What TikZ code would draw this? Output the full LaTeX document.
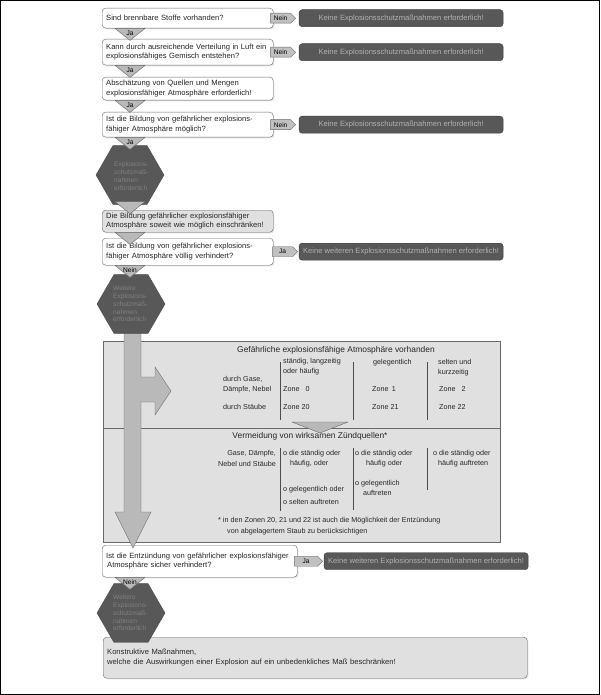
\documentclass[tikz,border=0pt]{standalone}
\usepackage{fontspec}
\setmainfont{Liberation Sans}
\usetikzlibrary{shapes.geometric,shapes.symbols,shadows}
\definecolor{exframe}{RGB}{105,105,105}
\definecolor{exdark}{RGB}{88,88,88}
\definecolor{exdarktxt}{RGB}{178,178,178}
\definecolor{exhextxt}{RGB}{128,128,128}
\definecolor{extag}{RGB}{192,192,192}
\definecolor{exarea}{RGB}{224,224,224}
\definecolor{exarrow}{RGB}{185,185,185}
\newcommand{\qfont}{\fontsize{7.6}{9.6}\selectfont}
\newcommand{\tagfont}{\fontsize{6.6}{7.5}\selectfont}
\newcommand{\hexfont}{\fontsize{6.6}{7.8}\selectfont}
\newcommand{\cellfont}{\fontsize{7.2}{10.5}\selectfont}
\newcommand{\headfont}{\fontsize{8.4}{10}\selectfont}
% triangle between two steps: name, top centre, label
\newcommand{\downtri}[3]{%
  \draw[tri] (#2) ++(-15,0) -- ++(30,0) -- ++(-15,12) -- cycle;
  \path (#2) ++(0,5) node[trilabel] (#1) {#3};}

\begin{document}
\begin{tikzpicture}[x=1pt, y=-1pt,
    soft/.style={drop shadow={shadow xshift=1.2pt, shadow yshift=-1.2pt, fill=black!22}},
    qbox/.style={draw=exframe, fill=white, rounded corners=3.5pt, anchor=north west, soft,
      text width=163pt, inner xsep=4pt, inner ysep=1pt, align=left, font=\qfont, text=black!85},
    gbox/.style={qbox, fill=exarea},
    dbox/.style={draw=black!75, fill=exdark, rounded corners=3pt, anchor=west,
      minimum width=204pt, minimum height=17pt, inner sep=1pt, font=\qfont, text=exdarktxt},
    tag/.style={signal, signal to=east, draw=exframe, fill=extag, anchor=west,
      minimum width=25pt, minimum height=10pt, inner sep=0pt, font=\tagfont},
    hexa/.style={regular polygon, regular polygon sides=6, minimum size=68pt,
      inner sep=0pt, draw=black!70, fill=exdark},
    hextxt/.style={anchor=west, align=left, inner sep=0pt, font=\hexfont, text=exhextxt},
    tri/.style={draw=exframe, fill=exarrow, line join=round},
    trilabel/.style={inner sep=0pt, font=\tagfont},
    area/.style={draw=exframe, fill=exarea, anchor=north west, minimum width=397pt, inner sep=0pt},
    cell/.style={anchor=west, align=left, inner sep=0pt, font=\cellfont, text=black!85},
    sep/.style={draw=black!70, line width=0.5pt},
  ]
  \useasboundingbox (0,0) rectangle (600,695);
  \draw[black, line width=0.8pt] (0.5,0.5) rectangle (599.5,694.5);
  \coordinate (col) at (130,0);

  % questions and results
  \node[qbox, minimum height=20pt] (q1) at (102,8) {Sind brennbare Stoffe vorhanden?};
  \node[qbox, minimum height=26pt] (q2) at (102,39)
    {Kann durch ausreichende Verteilung in Luft ein\\explosionsfähiges Gemisch entstehen?};
  \node[qbox, minimum height=23pt] (q3) at (102,77)
    {Abschätzung von Quellen und Mengen\\explosionsfähiger Atmosphäre erforderlich!};
  \node[qbox, minimum height=25pt] (q4) at (102,112)
    {Ist die Bildung von gefährlicher explosions-\\fähiger Atmosphäre möglich?};
  \node[gbox, minimum height=22pt] (q5) at (102,210)
    {Die Bildung gefährlicher explosionsfähiger\\Atmosphäre soweit wie möglich einschränken!};
  \node[qbox, minimum height=27pt] (q6) at (102,238)
    {Ist die Bildung von gefährlicher explosions-\\fähiger Atmosphäre völlig verhindert?};
  \node[qbox, minimum height=32pt, text width=187pt] (q7) at (102,545)
    {Ist die Entzündung von gefährlicher explosionsfähiger\\\hspace*{1pt}Atmosphäre sicher verhindert?};
  \node[gbox, minimum height=41pt, text width=416pt] (q8) at (103,637)
    {Konstruktive Maßnahmen,\\welche die Auswirkungen einer Explosion auf ein unbedenkliches Maß beschränken!};

  \node[tag] (n1) at ([xshift=-3pt]q1.east) {Nein};
  \node[tag] (n2) at ([xshift=-3pt]q2.east) {Nein};
  \node[tag] (n4) at ([xshift=-3pt]q4.east) {Nein};
  \node[tag] (j6) at ([xshift=-1pt]q6.east) {Ja};
  \node[tag, minimum width=28pt] (j7) at ([xshift=-3pt]q7.east) {Ja};

  \node[dbox] (d1) at ([xshift=3pt]n1.east) {Keine Explosionsschutzmaßnahmen erforderlich!};
  \node[dbox] (d2) at ([xshift=3pt]n2.east) {Keine Explosionsschutzmaßnahmen erforderlich!};
  \node[dbox] (d4) at ([xshift=3pt]n4.east) {Keine Explosionsschutzmaßnahmen erforderlich!};
  \node[dbox] (d6) at ([xshift=1pt]j6.east) {Keine weiteren Explosionsschutzmaßnahmen erforderlich!};
  \node[dbox] (d7) at ([xshift=1pt]j7.east) {Keine weiteren Explosionsschutzmaßnahmen erforderlich!};

  % zones
  \node[area, soft, minimum height=201pt] (sec) at (103,341) {};
  \draw[exframe] (sec.west |- 0,428) -- (sec.east |- 0,428);

  \node[cell, anchor=center, font=\headfont] (t1) at (336,350) {Gefährliche explosionsfähige Atmosphäre vorhanden};
  \node[cell] (k1) at (283,366.5) {ständig, langzeitig\\oder häufig};
  \node[cell] (k2) at (373,363) {gelegentlich};
  \node[cell] (k3) at (438,367.5) {selten und\\kurzzeitig};
  \node[cell] (r1) at (223,384.5) {durch Gase,\\Dämpfe, Nebel};
  \node[cell] (r2) at (223,407) {durch Stäube};
  \node[cell] (z0) at (283,389) {Zone \phantom{2}0};
  \node[cell] (z20) at (283,407) {Zone 20};
  \node[cell] (z1) at (372,389) {Zone \,1};
  \node[cell] (z21) at (372,407) {Zone 21};
  \node[cell] (z2) at (439,389) {Zone \phantom{2}2};
  \node[cell] (z22) at (439,407) {Zone 22};
  \foreach \x in {280,353,427} { \draw[sep] (\x,362) -- (\x,420); }

  \node[cell, anchor=center, font=\headfont] (t2) at (310,436) {Vermeidung von wirksamen Zündquellen*};
  \node[cell, anchor=east, align=right] (r3) at (276,458.5) {Gase, Dämpfe,\\Nebel und Stäube};
  \node[cell] (c1a) at (283,458.5) {o die ständig oder\\\hspace*{7pt}häufig, oder};
  \node[cell] (c1b) at (283,490) {o gelegentlich oder};
  \node[cell] (c1c) at (283,501.5) {o selten auftreten};
  \node[cell] (c2a) at (355,458.5) {o die ständig oder\\\hspace*{11pt}häufig oder};
  \node[cell] (c2b) at (355,488) {o gelegentlich\\\hspace*{8pt}auftreten};
  \node[cell] (c3a) at (433,458.5) {o die ständig oder\\\hspace*{5pt}häufig auftreten};
  \node[cell] (f1) at (218,521) {* in den Zonen 20, 21 und 22 ist auch die Möglichkeit der Entzündung};
  \node[cell] (f2) at (227,532) {von abgelagertem Staub zu berücksichtigen};
  \draw[sep] (280,448) -- (280,511);
  \draw[sep] (353,448) -- (353,510);
  \draw[sep] (427,448) -- (427,490);

  % broad arrow through the zones
  \draw[tri, line join=miter] (124,330) -- (141,330) -- (141,377) -- (155,377) -- (155,367)
    -- (171,391) -- (155,415) -- (155,402) -- (141,402) -- (141,512) -- (151,512)
    -- (133,548) -- (115,512) -- (124,512) -- cycle;
  \draw[tri] (292,422) -- (348,422) -- (320,433) -- cycle;

  % measures required
  \node[hexa] (h1) at (130,175) {};
  \node[hexa] (h2) at (131,304) {};
  \node[hexa] (h3) at (131,613) {};
  \node[hextxt] (h1t) at (114,176) {Explosions-\\schutzmaß-\\nahmen\\erforderlich};
  \node[hextxt] (h2t) at (113,304) {Weitere\\Explosions-\\schutzmaß-\\nahmen\\erforderlich};
  \node[hextxt] (h3t) at (113,613) {Weitere\\Explosions-\\schutzmaß-\\nahmen\\erforderlich};

  \downtri{ja1}{q1.south -| col}{Ja}
  \downtri{ja2}{q2.south -| col}{Ja}
  \downtri{ja3}{q3.south -| col}{Ja}
  \downtri{ja4}{q4.south -| col}{Ja}
  \downtri{go1}{[yshift=3pt]h1.south}{}
  \downtri{go2}{q5.south -| col}{}
  \downtri{ne6}{q6.south -| col}{Nein}
  \downtri{ne7}{q7.south -| col}{Nein}

\end{tikzpicture}
\end{document}
